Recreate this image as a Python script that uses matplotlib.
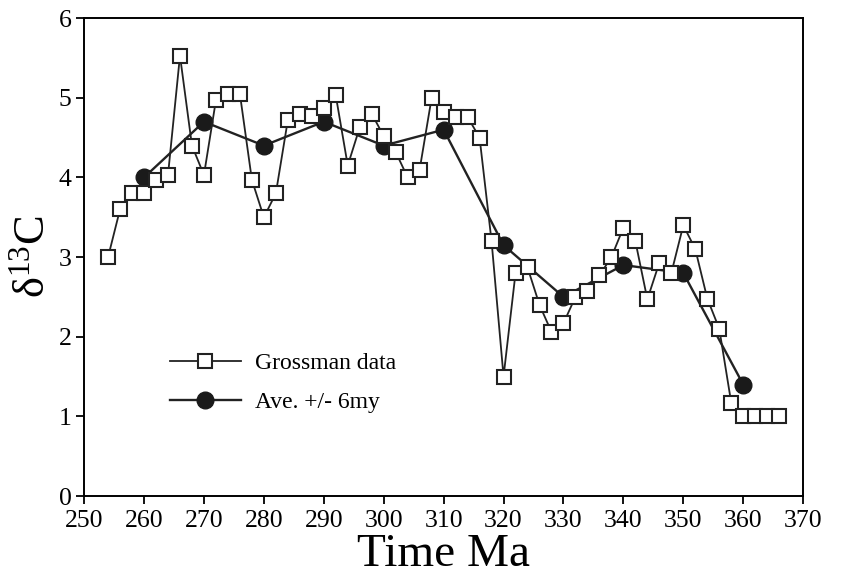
import numpy as np
import matplotlib.pyplot as plt

plt.rcParams['font.family'] = ['Liberation Serif', 'DejaVu Serif']

# Grossman data
t_gross = [254, 256, 258, 260, 262, 264, 266, 268, 270, 272, 274, 276, 278, 280,
           282, 284, 286, 288, 290, 292, 294, 296, 298, 300, 302, 304, 306, 308,
           310, 312, 314, 316, 318, 320, 322, 324, 326, 328, 330, 332, 334, 336,
           338, 340, 342, 344, 346, 348, 350, 352, 354, 356, 358, 360, 362, 364, 366]
d13c_gross = [3.0, 3.6, 3.8, 3.8, 3.97, 4.03, 5.53, 4.4, 4.03, 4.97, 5.05, 5.05, 3.97, 3.5,
              3.8, 4.72, 4.8, 4.77, 4.87, 5.03, 4.15, 4.63, 4.8, 4.52, 4.32, 4.0, 4.1, 5.0,
              4.82, 4.76, 4.76, 4.5, 3.2, 1.5, 2.8, 2.87, 2.4, 2.06, 2.17, 2.5, 2.57, 2.77,
              3.0, 3.37, 3.2, 2.47, 2.93, 2.8, 3.4, 3.1, 2.48, 2.1, 1.17, 1.0, 1.0, 1.0, 1.0]

# 6 my average
t_ave = [260, 270, 280, 290, 300, 310, 320, 330, 340, 350, 360]
d13c_ave = [4.0, 4.7, 4.4, 4.7, 4.4, 4.6, 3.15, 2.5, 2.9, 2.8, 1.4]

fig = plt.figure(figsize=(8.41, 5.87), dpi=100)
ax = fig.add_axes([0.1, 0.155, 0.855, 0.814])

ax.plot(t_gross, d13c_gross, color='#222222', lw=1.3, marker='s', ms=9.5,
        mfc='white', mec='#222222', mew=1.5, label='Grossman data', zorder=3)
ax.plot(t_ave, d13c_ave, color='#222222', lw=1.7, marker='o', ms=12,
        mfc='#1a1a1a', mec='#1a1a1a', label='Ave. +/- 6my', zorder=2)

ax.set_xlim(250, 370)
ax.set_ylim(0, 6)
ax.set_xticks(np.arange(250, 371, 10))
ax.set_yticks(np.arange(0, 7, 1))
ax.tick_params(direction='out', length=6, width=1.3, labelsize=18.5)
ax.tick_params(axis='x', pad=4)
ax.tick_params(axis='y', pad=3)
for s in ax.spines.values():
    s.set_linewidth(1.4)

ax.set_xlabel('Time Ma', fontsize=34, labelpad=1)
ax.set_ylabel(r'$\mathregular{\delta^{13}C}$', fontsize=32, labelpad=4)

ax.legend(loc='upper left', bbox_to_anchor=(0.09, 0.345), frameon=False,
          fontsize=17, handlelength=3.0, labelspacing=0.75, handletextpad=0.6)

fig.savefig('out.png', dpi=100)
